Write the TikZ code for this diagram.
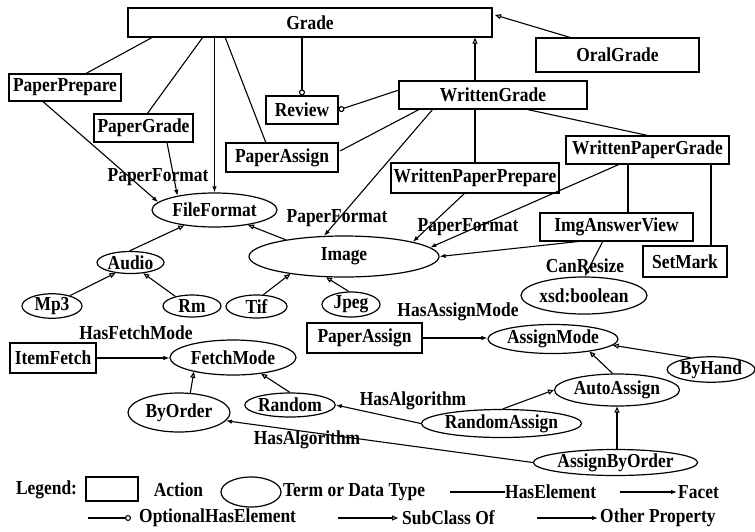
\documentclass[tikz,border=0pt]{standalone}
\usepackage{fontspec}
\setmainfont{Liberation Serif}[FakeStretch=0.88]
\usetikzlibrary{arrows.meta,shapes.geometric,calc}
\begin{document}
\begin{tikzpicture}[x=1pt,y=-1pt,
  every node/.style={font=\bfseries\fontsize{19.8}{22}\selectfont},
  act/.style={draw,rectangle,line width=1.2pt,inner sep=0pt},
  term/.style={draw,ellipse,line width=1.2pt,inner sep=0pt},
  lbl/.style={inner sep=0pt},
  link/.style={line width=1.1pt},
  prop/.style={link,-{Latex[length=6pt,width=4.5pt]}},
  sub/.style={link,-{Triangle[open,length=6pt,width=5pt]}},
  opt/.style={link,-{Circle[open,length=6pt,width=6pt]}}]
\useasboundingbox (0,0) rectangle (755,531);

% actions
\node[act,minimum width=364pt,minimum height=29pt] (grade) at (310,22.5) {Grade};
\node[act,minimum width=163pt,minimum height=34pt] (oral) at (617.5,55) {OralGrade};
\node[act,minimum width=188pt,minimum height=28pt] (written) at (493,95) {WrittenGrade};
\node[act,minimum width=163pt,minimum height=28pt] (wpg) at (647.5,150) {WrittenPaperGrade};
\node[act,minimum width=168pt,minimum height=30pt] (wpp) at (475,178) {WrittenPaperPrepare};
\node[act,minimum width=112pt,minimum height=27pt] (pprep) at (65,87.5) {PaperPrepare};
\node[act,minimum width=99pt,minimum height=28pt] (pgrade) at (143.5,128) {PaperGrade};
\node[act,minimum width=72pt,minimum height=28pt] (review) at (302,110) {Review};
\node[act,minimum width=112pt,minimum height=29pt] (passign) at (282,157.5) {PaperAssign};
\node[act,minimum width=153pt,minimum height=28pt] (imgview) at (616.5,227) {ImgAnswerView};
\node[act,minimum width=84pt,minimum height=31pt] (setmark) at (685,261.5) {SetMark};
\node[act,minimum width=115pt,minimum height=30pt] (passignb) at (364.5,338) {PaperAssign};
\node[act,minimum width=86pt,minimum height=30pt] (itemfetch) at (53,358) {ItemFetch};

% terms
\node[term,minimum width=125pt,minimum height=34pt] (fileformat) at (214.5,210) {FileFormat};
\node[term,minimum width=190pt,minimum height=41pt] (image) at (344,256.5) {Image};
\node[term,minimum width=67pt,minimum height=22pt] (audio) at (130.5,262.5) {Audio};
\node[term,minimum width=60pt,minimum height=22pt] (mp3) at (52,306) {Mp3};
\node[term,minimum width=58pt,minimum height=22pt] (rm) at (192,306) {Rm};
\node[term,minimum width=61pt,minimum height=23pt] (tif) at (256.5,306.5) {Tif};
\node[term,minimum width=58pt,minimum height=25pt] (jpeg) at (351,304.5) {Jpeg};
\node[term,minimum width=124pt,minimum height=37pt] (xsd) at (584,295.5) {xsd:boolean};
\node[term,minimum width=126pt,minimum height=29pt] (assignmode) at (553,339) {AssignMode};
\node[term,minimum width=78pt,minimum height=25pt] (byhand) at (711,369.5) {ByHand};
\node[term,minimum width=125pt,minimum height=32pt] (autoassign) at (617,390) {AutoAssign};
\node[term,minimum width=137pt,minimum height=28pt] (randomassign) at (501.5,423.5) {RandomAssign};
\node[term,minimum width=145pt,minimum height=26pt] (assignbyorder) at (615.5,462.5) {AssignByOrder};
\node[term,minimum width=126pt,minimum height=35pt] (fetchmode) at (233,357.5) {FetchMode};
\node[term,minimum width=76pt,minimum height=24pt] (random) at (290,405) {Random};
\node[term,minimum width=102pt,minimum height=39pt] (byorder) at (179,412.5) {ByOrder};

% Grade and its elements
\draw[link] ($(grade.center)+(-157,14.5)$) -- ($(pprep.center)+(20,-13.5)$);
\draw[link] ($(grade.center)+(-107,14.5)$) -- ($(pgrade.center)+(3.5,-14)$);
\draw[prop] (grade.south -| fileformat.north) -- (fileformat.north);
\draw[link] ($(grade.center)+(-85,14.5)$) -- ($(passign.center)+(-16,-14.5)$);
\draw[opt] (review.north |- grade.south) -- (review.north);
\draw[opt] ($(written.center)+(-94,-5)$) -- (review.east);
\draw[sub] ($(written.center)+(-18,-14)$) coordinate (wgtop) -- (wgtop |- grade.south);
\draw[sub] ($(oral.center)+(-45.5,-17)$) -- ($(grade.center)+(185,-7.5)$);

% WrittenGrade and its elements
\draw[link] ($(written.center)+(-73,14)$) -- ($(passign.center)+(58,-6.5)$);
\draw[prop] ($(written.center)+(-60,14)$) -- (image.134);
\draw[link] (wpp.north |- written.south) -- (wpp.north);
\draw[link] ($(written.center)+(32,14)$) -- (wpg.north);
\draw[prop] ($(wpp.center)+(-10,15)$) -- (image.12);
\draw[prop] ($(wpg.center)+(-27.5,14)$) -- (image.6);
\draw[link] ($(wpg.south)+(-19.5,0)$) coordinate (wpgl) -- (wpgl |- imgview.north);
\draw[link] ($(wpg.south)+(63.5,0)$) coordinate (wpgr) -- (wpgr |- setmark.north);
\draw[prop] ($(imgview.center)+(-33.5,14)$) -- (image.east);
\draw[prop] ($(imgview.center)+(-13.5,14)$) -- (xsd.88);

% paper formats into FileFormat
\draw[prop] ($(pprep.south)+(-22,0)$) -- (fileformat.172);
\draw[prop] ($(pgrade.south)+(23.5,0)$) -- (fileformat.159);

% subclass hierarchy of formats
\draw[sub] (image.164) -- (fileformat.-24);
\draw[sub] (audio.95) -- (fileformat.207);
\draw[sub] (mp3.30) -- (audio.215);
\draw[sub] (rm.150) -- (audio.320);
\draw[sub] (tif.60) -- (image.198);
\draw[sub] (jpeg.100) -- (image.229);

% assignment modes
\draw[prop] (passignb.east) -- (passignb.east -| assignmode.west);
\draw[sub] (byhand.150) -- (assignmode.-6);
\draw[sub] (autoassign.105) -- (assignmode.-19);
\draw[sub] (randomassign.85) -- (autoassign.180);
\draw[sub] (autoassign.south |- assignbyorder.north) -- (autoassign.south);
\draw[prop] (randomassign.west) -- (random.east);
\draw[prop] (assignbyorder.west) -- (byorder.-10);

% fetch modes
\draw[prop] (itemfetch.east) -- (itemfetch.east -| fetchmode.west);
\draw[sub] (byorder.60) -- (fetchmode.200);
\draw[sub] (random.90) -- (fetchmode.-30);

% property labels
\node[lbl] (pf1) at (158,177) {PaperFormat};
\node[lbl] (pf2) at (337,218) {PaperFormat};
\node[lbl] (pf3) at (468,227) {PaperFormat};
\node[lbl] (canresize) at (585,266) {CanResize};
\node[lbl] (hasassign) at (458,312) {HasAssignMode};
\node[lbl] (hasfetch) at (136,333) {HasFetchMode};
\node[lbl] (alg1) at (413,401) {HasAlgorithm};
\node[lbl] (alg2) at (307,440) {HasAlgorithm};

% legend
\node[lbl] (legend) at (46.5,490) {Legend:};
\node[act,minimum width=52pt,minimum height=24pt] (legact) at (112,489) {};
\node[lbl] (legacttxt) at (178.5,490) {Action};
\node[term,minimum width=60pt,minimum height=30pt] (legterm) at (251,492) {};
\node[lbl,anchor=west] (legtermtxt) at (283,492) {Term or Data Type};
\coordinate (he1) at (450,492); \coordinate (he2) at (505,492);
\draw[link] (he1) -- (he2);
\node[lbl,anchor=west] (hetxt) at (he2) {HasElement};
\coordinate (fa1) at (620,492); \coordinate (fa2) at (677,492);
\draw[prop] (fa1) -- (fa2);
\node[lbl,anchor=west] (fatxt) at (678,492) {Facet};
\coordinate (op1) at (88,518); \coordinate (op2) at (131,518);
\draw[opt] (op1) -- (op2);
\node[lbl,anchor=west] (optxt) at (139,518) {OptionalHasElement};
\coordinate (sc1) at (338,518); \coordinate (sc2) at (398,518);
\draw[sub] (sc1) -- (sc2);
\node[lbl,anchor=west] (sctxt) at (402,518) {SubClass Of};
\coordinate (ot1) at (537,518); \coordinate (ot2) at (598,518);
\draw[prop] (ot1) -- (ot2);
\node[lbl,anchor=west] (ottxt) at (600,518) {Other Property};
\end{tikzpicture}
\end{document}
